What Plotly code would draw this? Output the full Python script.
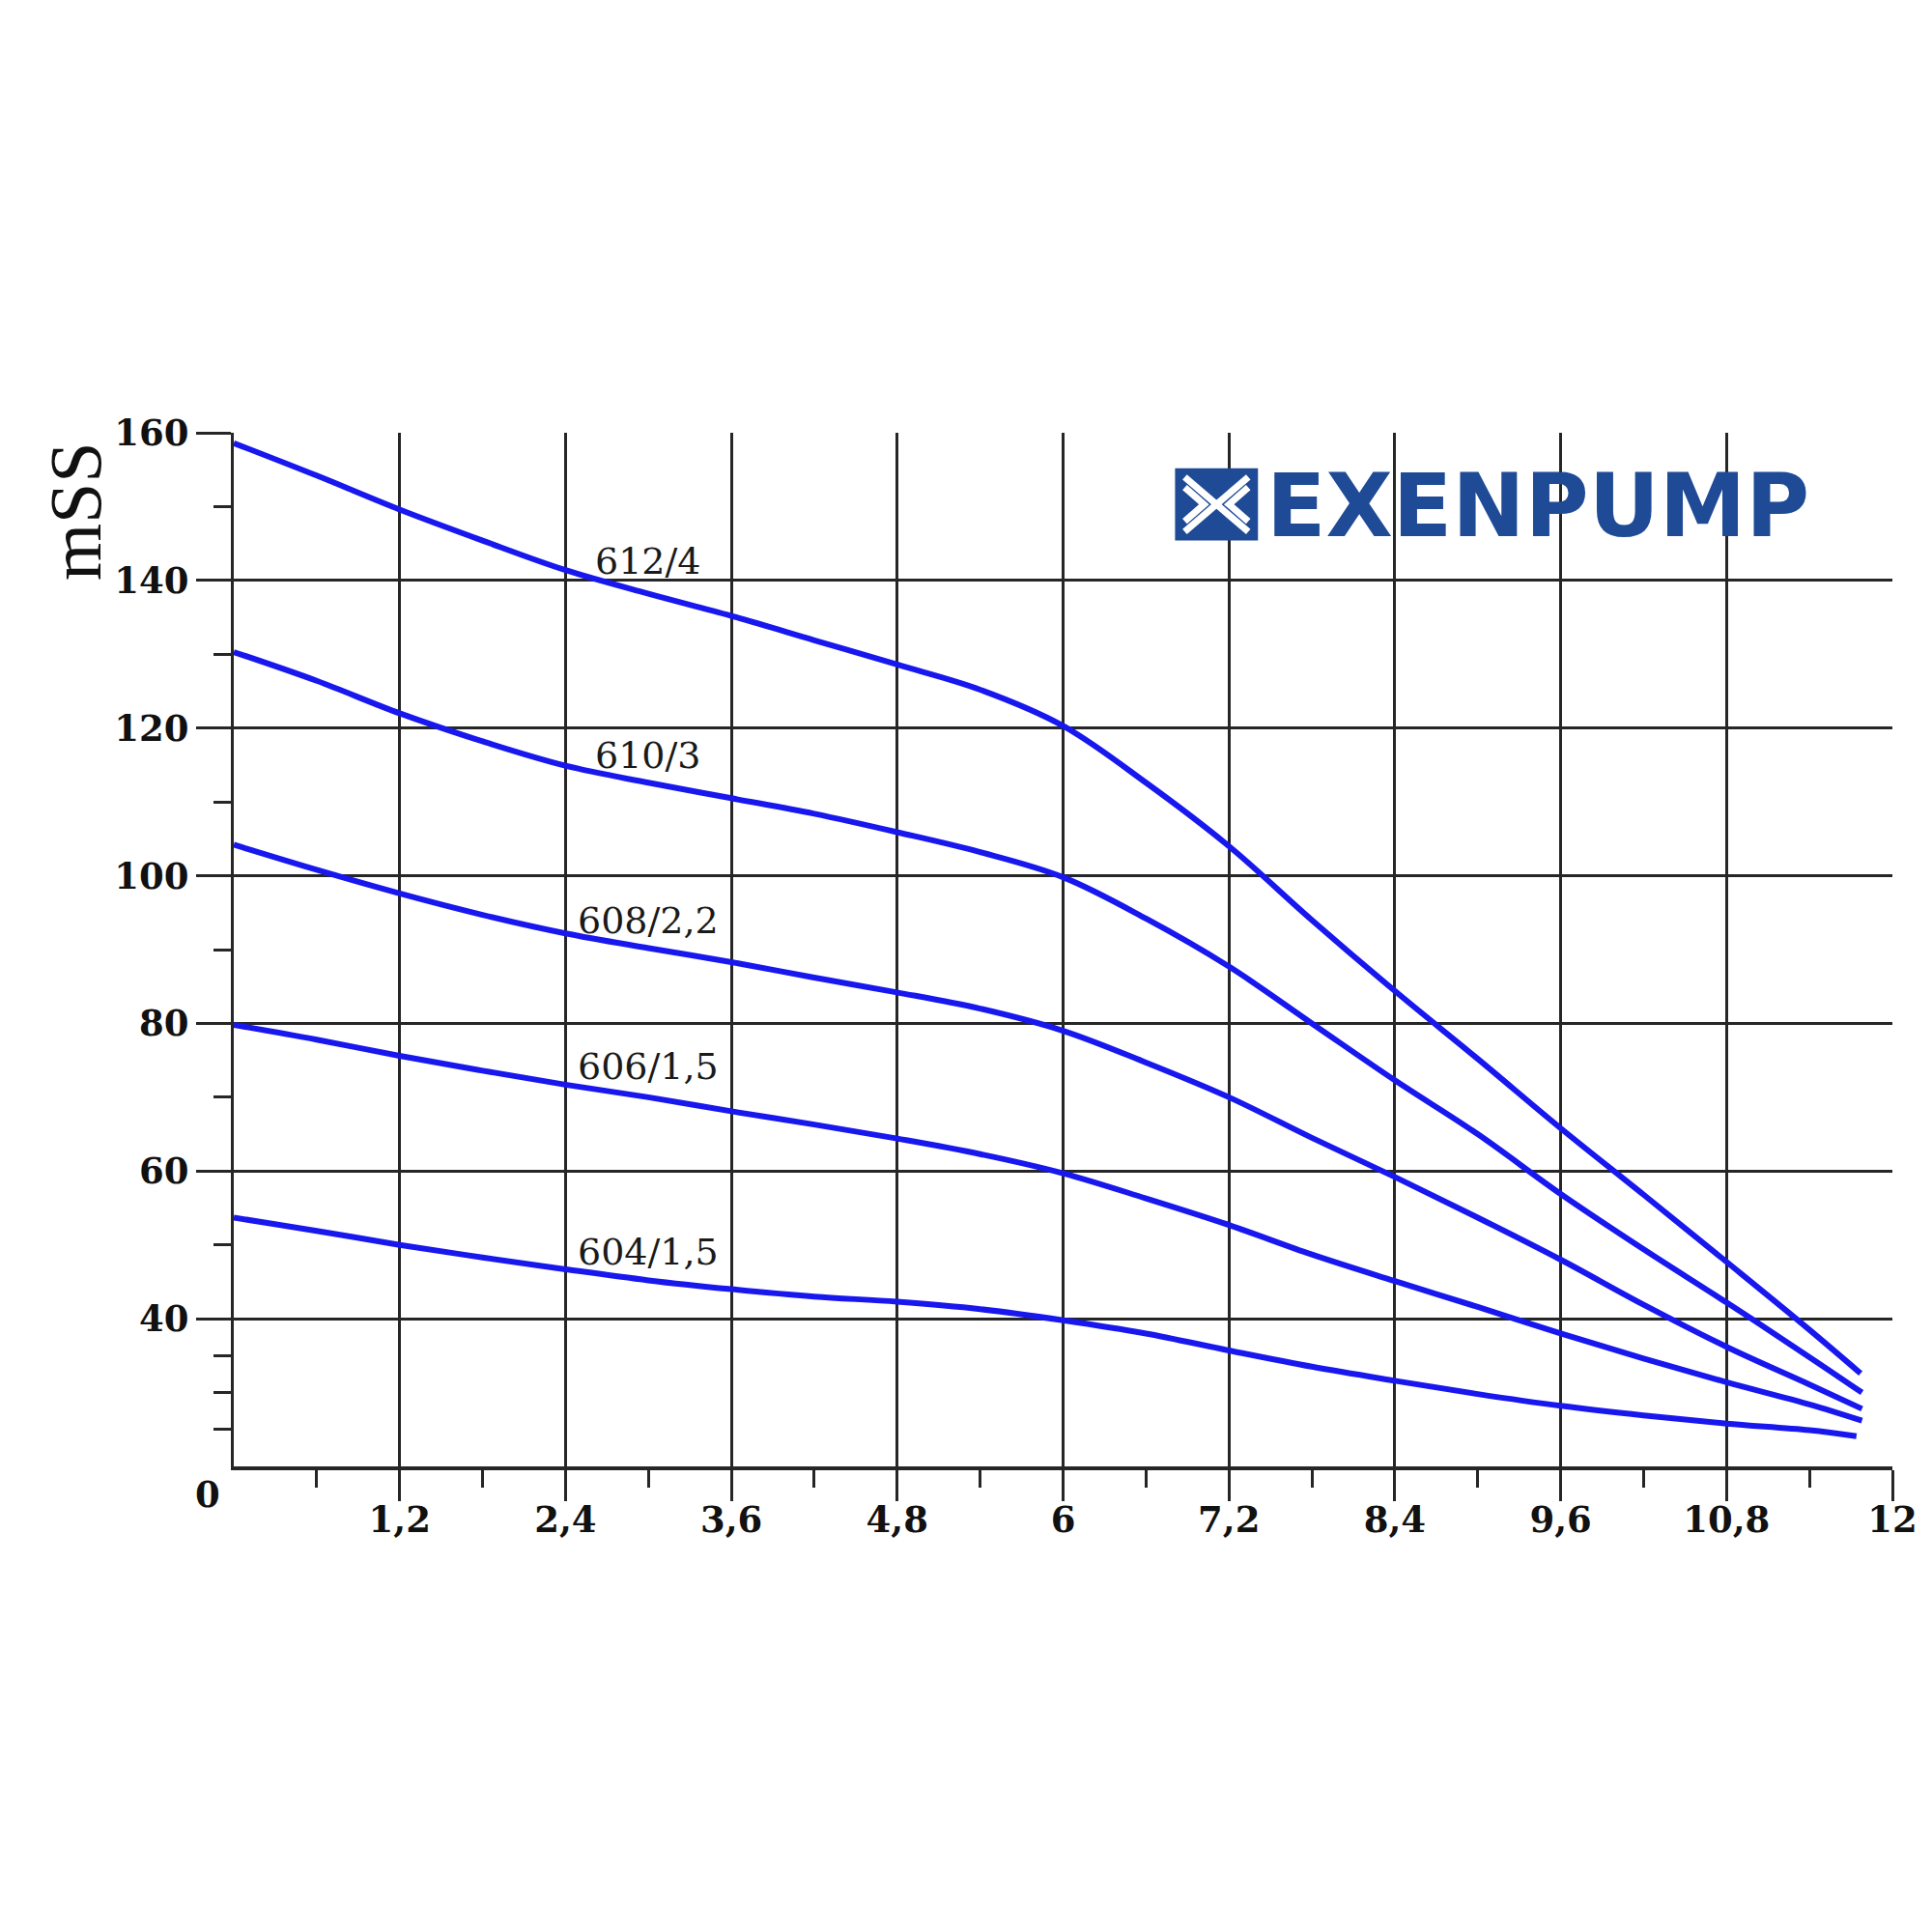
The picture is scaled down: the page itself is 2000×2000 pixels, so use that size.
import plotly.graph_objects as go

# ---- data ----
flow = [0.0, 0.6, 1.2, 1.8, 2.4, 3.0, 3.6, 4.2, 4.8, 5.4, 6.0, 6.6, 7.2, 7.8,
        8.4, 9.0, 9.6, 10.2, 10.8, 11.4]
series_names = ["612/4", "610/3", "608/2,2", "606/1,5", "604/1,5"]
flow_end = [11.77, 11.78, 11.78, 11.78, 11.74]
head_612_4 = [158.6, 154.2, 149.6, 145.4, 141.4, 138.2, 135.2, 131.9, 128.6, 125.2,
              120.3, 112.6, 104.0, 94.0, 84.4, 75.2, 65.8, 56.8, 47.7, 38.5, 32.6]
head_610_3 = [130.3, 126.4, 122.0, 118.2, 114.9, 112.6, 110.5, 108.4, 105.9, 103.2,
              99.8, 94.2, 87.7, 80.0, 72.3, 65.0, 56.9, 49.4, 42.2, 34.8, 30.0]
head_608_22 = [104.2, 100.8, 97.6, 94.7, 92.2, 90.2, 88.3, 86.2, 84.2, 82.0,
               79.0, 74.7, 70.0, 64.5, 59.2, 53.7, 48.0, 41.9, 36.2, 31.1, 27.8]
head_606_15 = [79.8, 77.8, 75.6, 73.6, 71.7, 70.0, 68.1, 66.3, 64.4, 62.3,
               59.7, 56.3, 52.7, 48.7, 45.1, 41.6, 38.0, 34.6, 31.4, 28.4, 26.2]
head_604_15 = [53.7, 51.9, 50.0, 48.3, 46.7, 45.2, 44.0, 43.0, 42.3, 41.3,
               39.8, 38.0, 35.7, 33.5, 31.6, 29.8, 28.2, 26.9, 25.8, 24.9, 24.1]
label_x = [3.0, 3.0, 3.0, 3.0, 3.0]
label_y = [142.6, 116.3, 93.9, 74.2, 49.0]

x_tickvals = [1.2, 2.4, 3.6, 4.8, 6, 7.2, 8.4, 9.6, 10.8, 12]
x_ticktext = ["1,2", "2,4", "3,6", "4,8", "6", "7,2", "8,4", "9,6", "10,8", "12"]
x_minor = [0.6, 1.8, 3.0, 4.2, 5.4, 6.6, 7.8, 9.0, 10.2, 11.4]
y_tickvals = [40, 60, 80, 100, 120, 140, 160]
y_ticktext = ["40", "60", "80", "100", "120", "140", "160"]
y_minor = [25, 30, 35, 50, 70, 90, 110, 130, 150]

heads = [head_612_4, head_610_3, head_608_22, head_606_15, head_604_15]

LINE_BLUE = "rgb(24,24,238)"
GRID = "#262626"
LOGO_BLUE = "#1f4b96"
SERIF = "Liberation Serif, Times New Roman, serif"
WIDE_SERIF = "DejaVu Serif, serif"

fig = go.Figure()
for name, h, xe in zip(series_names, heads, flow_end):
    fig.add_trace(go.Scatter(
        x=flow + [xe], y=h, mode="lines", name=name,
        line=dict(color=LINE_BLUE, width=6, shape="spline", smoothing=1.0),
        showlegend=False, hoverinfo="x+y+name"))

for name, lx, ly in zip(series_names, label_x, label_y):
    fig.add_annotation(x=lx, y=ly, xref="x", yref="y", text=name, showarrow=False,
                       font=dict(family=WIDE_SERIF, size=38, color="#1a1a1a"))

# y axis title "mSS"
fig.add_annotation(x=0, xref="paper", xshift=-164, xanchor="center",
                   y=149.4, yref="y", yanchor="middle", text="mSS",
                   textangle=-90, showarrow=False,
                   font=dict(family=SERIF, size=76, color="#111111"))
# origin label
fig.add_annotation(x=0, y=20, xref="x", yref="y", text="0", showarrow=False,
                   xshift=-27, yshift=-29,
                   font=dict(family=WIDE_SERIF, size=37, color="#111111",
                             weight="bold"))

# logo
fig.add_shape(type="rect", xref="x", yref="y", x0=6.81, x1=7.41, y0=145.4, y1=155.2,
              fillcolor=LOGO_BLUE, line=dict(width=0), layer="above")
icon_paths = [
    "M 6.88,154.0 L 7.11,150.3 L 7.34,154.0",
    "M 6.88,146.6 L 7.11,150.3 L 7.34,146.6",
    "M 6.88,152.6 L 7.02,150.3 L 6.88,148.0",
    "M 7.34,152.6 L 7.20,150.3 L 7.34,148.0",
]
for p in icon_paths:
    fig.add_shape(type="path", xref="x", yref="y", path=p,
                  line=dict(color="white", width=7), layer="above")
fig.add_annotation(x=7.46, y=150.1, xref="x", yref="y", text="<b>EXENPUMP</b>",
                   showarrow=False, xanchor="left",
                   font=dict(family="DejaVu Sans, Arial, sans-serif", size=90,
                             color=LOGO_BLUE))

tickfont = dict(family=WIDE_SERIF, size=37, color="#111111", weight="bold")

fig.update_xaxes(
    range=[0, 12], tickmode="array", tickvals=x_tickvals, ticktext=x_ticktext,
    ticks="outside", ticklen=32, tickwidth=3, tickcolor=GRID,
    showgrid=True, gridcolor=GRID, gridwidth=3, zeroline=False,
    showline=True, linecolor=GRID, linewidth=4, automargin=False,
    tickfont=tickfont, ticklabelstandoff=-12,
    minor=dict(tickmode="array", tickvals=x_minor, ticks="outside", ticklen=18,
               tickwidth=3, tickcolor=GRID, showgrid=False),
)
fig.update_yaxes(
    range=[20, 160], tickmode="array", tickvals=y_tickvals, ticktext=y_ticktext,
    ticks="outside", ticklen=36, tickwidth=3, tickcolor=GRID,
    showgrid=True, gridcolor=GRID, gridwidth=3, zeroline=False,
    showline=True, linecolor=GRID, linewidth=3, automargin=False,
    tickfont=tickfont,
    minor=dict(tickmode="array", tickvals=y_minor, ticks="outside", ticklen=18,
               tickwidth=3, tickcolor=GRID, showgrid=False),
)
fig.update_layout(
    width=1984, height=1984,
    margin=dict(l=234, r=33, t=440, b=474),
    plot_bgcolor="white", paper_bgcolor="white",
    font=dict(family=SERIF),
)
fig.write_html("out.html")
